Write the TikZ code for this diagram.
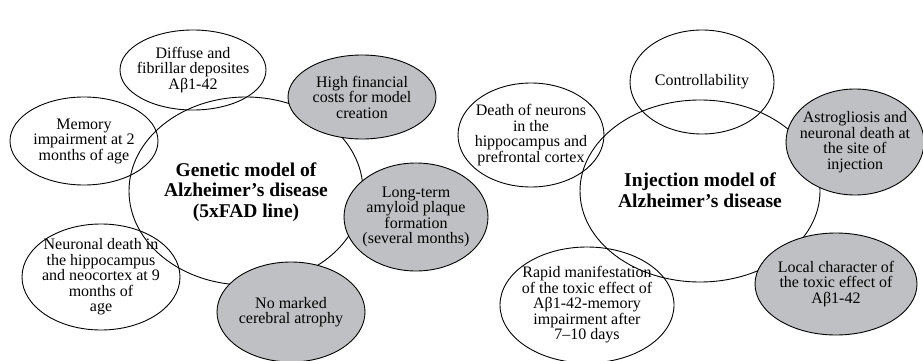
\documentclass[tikz,border=0pt]{standalone}
\usepackage{fontspec}
\setmainfont{Liberation Serif}
\usetikzlibrary{shapes.geometric}
\definecolor{bubgray}{RGB}{191,192,196}
\tikzset{
  bub/.style={ellipse, draw=black, line width=0.9pt, inner sep=0pt},
  gbub/.style={bub, fill=bubgray},
  txt/.style={align=center, font=\fontsize{16}{15.5}\selectfont, inner sep=0pt},
  title/.style={align=center, font=\fontsize{19.5}{20.5}\selectfont\bfseries, inner sep=0pt}
}
\begin{document}
\begin{tikzpicture}[x=1pt,y=-1pt]
\useasboundingbox (0,0) rectangle (923,361);
% white bubbles (transparent)
\node[bub, minimum width=146, minimum height=80] (diff) at (193,70) {};
\node[bub, minimum width=148, minimum height=88] (mem) at (84,141) {};
\node[bub, minimum width=158, minimum height=106] (neur) at (101,277) {};
\node[bub, minimum width=234, minimum height=188] (gen) at (246,191) {};
\node[bub, minimum width=144, minimum height=104] (ctrl) at (702,82) {};
\node[bub, minimum width=146, minimum height=104] (death) at (531,135) {};
\node[bub, minimum width=174, minimum height=116] (rapid) at (587,305) {};
\node[bub, minimum width=240, minimum height=182] (inj) at (700,191) {};
% gray bubbles (on top)
\node[gbub, minimum width=148, minimum height=84] (cost) at (362,97) {};
\node[gbub, minimum width=144, minimum height=108] (plaq) at (416,217) {};
\node[gbub, minimum width=148, minimum height=100] (atro) at (291,312) {};
\node[gbub, minimum width=138, minimum height=106] (astro) at (855,142) {};
\node[gbub, minimum width=162, minimum height=102] (local) at (836,284) {};
% texts
\node[txt] (tdiff) at (diff) {Diffuse and\\fibrillar deposites\\Aβ1-42};
\node[txt] (tmem) at (mem) {Memory\\impairment at 2\\months of age};
\node[txt] (tneur) at (neur) {Neuronal death in\\the hippocampus\\and neocortex at 9\\months of\\age};
\node[title] (tgen) at ([yshift=-1]gen.center) {Genetic model of\\Alzheimer’s disease\\(5xFAD line)};
\node[txt] (tcost) at (cost) {High financial\\costs for model\\creation};
\node[txt] (tplaq) at (plaq) {Long-term\\amyloid plaque\\formation\\(several months)};
\node[txt] (tatro) at (atro) {No marked\\cerebral atrophy};
\node[txt] (tctrl) at (ctrl) {Controllability};
\node[txt] (tdeath) at (death) {Death of neurons\\in the\\hippocampus and\\prefrontal cortex};
\node[title] (tinj) at ([yshift=1]inj.center) {Injection model of\\Alzheimer’s disease};
\node[txt] (tastro) at (astro) {Astrogliosis and\\neuronal death at\\the site of\\injection};
\node[txt] (tlocal) at (local) {Local character of\\the toxic effect of\\Aβ1-42};
\node[txt] (trapid) at (rapid) {Rapid manifestation\\of the toxic effect of\\Aβ1-42-memory\\impairment after\\7--10 days};
\end{tikzpicture}
\end{document}
